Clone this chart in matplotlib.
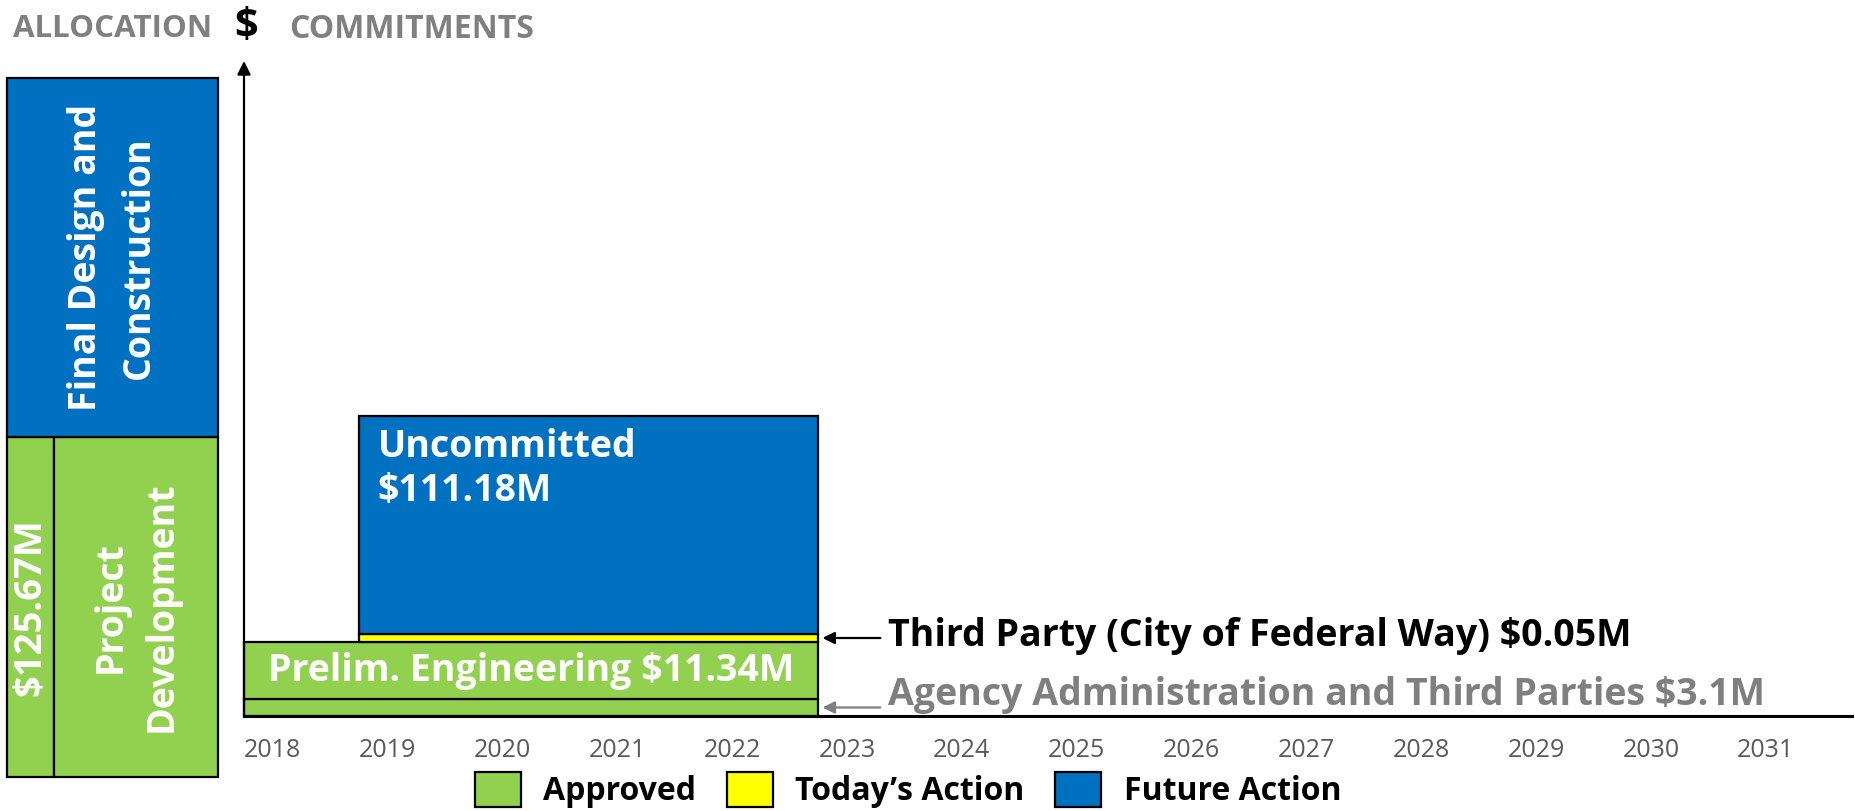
import numpy as np
import matplotlib
matplotlib.use("Agg")
import matplotlib.pyplot as plt
from matplotlib.patches import Patch

plt.rcParams['font.family'] = ['Open Sans', 'DejaVu Sans']

# colours used in the slide
GREEN = '#92D050'
YELLOW = '#FFFF00'
BLUE = '#0070C0'
GREY = '#7F7F7F'

# --- data ---------------------------------------------------------------
years = list(range(2018, 2032))

# commitment stack (bottom to top); the slide is schematic, not to scale,
# so drawn_height is the bar height as it appears in the picture
segments = ['Agency Administration and Third Parties',
            'Prelim. Engineering',
            'Third Party (City of Federal Way)',
            'Uncommitted']
amounts = [3.1, 11.34, 0.05, 111.18]          # $M
status = ['Approved', 'Approved', 'Today’s Action', 'Future Action']
drawn_height = [17, 57, 8, 218]
start_year = [2017.75, 2017.75, 2018.75, 2018.75]
end_year = [2022.75, 2022.75, 2022.75, 2022.75]

# allocation column on the left
allocation_total = 125.67
allocation_parts = ['Project\nDevelopment', 'Final Design and\nConstruction']
allocation_status = ['Approved', 'Future Action']
allocation_height = [340, 359]

status_color = {'Approved': GREEN, 'Today’s Action': YELLOW, 'Future Action': BLUE}

PT = 72 / 100  # pixels -> points at dpi 100
W, H = 1856, 811

fig = plt.figure(figsize=(W / 100, H / 100), dpi=100)

# --- main commitments axes ---------------------------------------------
ax = fig.add_axes([244 / W, (H - 716) / H, (1852 - 244) / W, 655 / H])
ax.set_xlim(2017.75, 2031.75)
ax.set_ylim(0, 655)

bottoms = np.concatenate([[0], np.cumsum(drawn_height)[:-1]])
widths = np.array(end_year) - np.array(start_year)
ax.bar(start_year, drawn_height, width=widths, bottom=bottoms, align='edge',
       color=[status_color[s] for s in status], edgecolor='black', linewidth=1.6,
       clip_on=False, zorder=3)

for side in ['top', 'right', 'left']:
    ax.spines[side].set_visible(False)
ax.spines['bottom'].set_linewidth(2.2)
ax.spines['bottom'].set_zorder(4)
ax.set_yticks([])
ax.set_xticks(years)
ax.set_xticklabels([str(y) for y in years])
ax.tick_params(axis='x', length=0, pad=16, labelsize=18, labelcolor='#595959')

# vertical $ axis with arrow
ax.annotate('', xy=(0, 1), xytext=(0, 0), xycoords='axes fraction',
            arrowprops=dict(arrowstyle='-|>', color='black', lw=1.6,
                            mutation_scale=20, shrinkA=0, shrinkB=0))

# labels on / next to the bars
ax.annotate('Uncommitted', xy=(start_year[3], bottoms[3] + drawn_height[3]),
            xytext=(19 * PT, -12 * PT), textcoords='offset points',
            ha='left', va='top', color='white', fontsize=27, fontweight='bold',
            zorder=5)
ax.annotate(f'${amounts[3]:.2f}M', xy=(start_year[3], bottoms[3] + drawn_height[3]),
            xytext=(19 * PT, -56 * PT), textcoords='offset points',
            ha='left', va='top', color='white', fontsize=27, fontweight='bold',
            zorder=5)

ax.text((start_year[1] + end_year[1]) / 2, bottoms[1] + drawn_height[1] / 2,
        f'{segments[1]} ${amounts[1]:.2f}M', ha='center', va='center',
        color='white', fontsize=27, fontweight='bold', zorder=5)

side_labels = [(2, 'black', f'{segments[2]} ${amounts[2]:.2f}M', 2, 27),
               (0, GREY, f'{segments[0]} ${amounts[0]:.1f}M', 12, 27)]
for i, col, label, lift, size in side_labels:
    ymid = bottoms[i] + drawn_height[i] / 2
    ax.annotate('', xy=(end_year[i], ymid), xytext=(62 * PT, 0),
                textcoords='offset points',
                arrowprops=dict(arrowstyle='-|>', color=col, lw=1.6,
                                mutation_scale=18, shrinkA=0, shrinkB=3))
    ax.annotate(label, xy=(end_year[i], ymid), xytext=(70 * PT, lift * PT),
                textcoords='offset points', ha='left', va='center',
                color=col, fontsize=size, fontweight='bold')

# --- allocation column -------------------------------------------------
ax2 = fig.add_axes([7 / W, (H - 777) / H, 211 / W, 699 / H])
ax2.set_xlim(0, 1)
ax2.set_ylim(0, sum(allocation_height))
ax2.axis('off')
narrow = 0.223
ax2.bar([0, narrow], [allocation_height[0]] * 2, width=[narrow, 1 - narrow],
        align='edge', color=status_color[allocation_status[0]],
        edgecolor='black', linewidth=1.6, clip_on=False)
ax2.bar(0, allocation_height[1], width=1, bottom=allocation_height[0], align='edge',
        color=status_color[allocation_status[1]], edgecolor='black',
        linewidth=1.6, clip_on=False)
ax2.text(narrow / 2, allocation_height[0] / 2, f'${allocation_total:.2f}M',
         rotation=90, ha='center', va='center', color='white',
         fontsize=27.5, fontweight='bold')
ax2.text((1 + narrow) / 2, allocation_height[0] / 2, allocation_parts[0],
         rotation=90, ha='center', va='center', color='white',
         fontsize=27, fontweight='bold', linespacing=1.45)
ax2.text(0.5, allocation_height[0] + allocation_height[1] / 2, allocation_parts[1],
         rotation=90, ha='center', va='center', color='white',
         fontsize=27, fontweight='bold', linespacing=1.5)

# --- header -------------------------------------------------------------
fig.text(13 / W, 1 - 29 / H, 'ALLOCATION', ha='left', va='center',
         color='#808080', fontsize=22.5, fontweight='bold')
fig.text(246 / W, 1 - 26 / H, '$', ha='center', va='center',
         color='black', fontsize=30, fontweight='bold')
fig.text(289 / W, 1 - 29 / H, 'COMMITMENTS', ha='left', va='center',
         color='#808080', fontsize=23, fontweight='bold')

# --- legend -------------------------------------------------------------
handles = [Patch(facecolor=status_color[s], edgecolor='black', linewidth=1.6, label=s)
           for s in ['Approved', 'Today’s Action', 'Future Action']]
fig.legend(handles=handles, loc='center', bbox_to_anchor=(908 / W, 1 - 790 / H),
           ncol=3, frameon=False, prop={'weight': 'bold', 'size': 23},
           handlelength=1.45, handleheight=1.3, handletextpad=0.7,
           columnspacing=0.95, borderpad=0, borderaxespad=0)

fig.savefig('out.png', dpi=100)
